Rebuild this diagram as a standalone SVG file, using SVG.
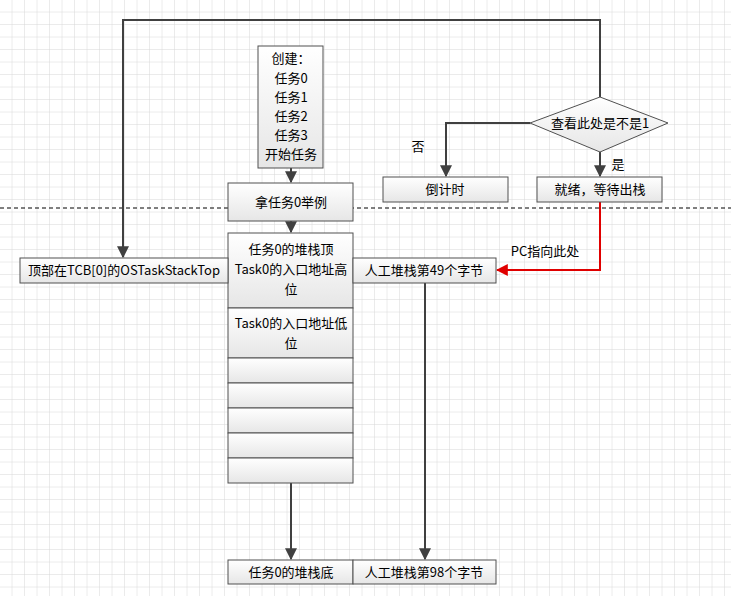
<svg xmlns="http://www.w3.org/2000/svg" width="731" height="596" viewBox="0 0 731 596">
<defs>
<pattern id="grid" width="12.5" height="12.5" patternUnits="userSpaceOnUse"><path d="M12.5 0V12.5H0" fill="none" stroke="#d8d8d8" stroke-width="1"/></pattern>
<linearGradient id="g" x1="0" y1="0" x2="0" y2="1"><stop offset="0" stop-color="#ffffff"/><stop offset="1" stop-color="#e6e6e6"/></linearGradient>
<marker id="a" viewBox="0 0 10 10" refX="9" refY="5" markerWidth="6" markerHeight="6" orient="auto" markerUnits="userSpaceOnUse"><path d="M0 0L10 5L0 10z" fill="#404040"/></marker>
<marker id="a2" viewBox="0 0 10 10" refX="9" refY="5" markerWidth="12" markerHeight="12" orient="auto" markerUnits="userSpaceOnUse"><path d="M0 0L10 5L0 10z" fill="#404040"/></marker>
<marker id="r" viewBox="0 0 10 10" refX="9" refY="5" markerWidth="12" markerHeight="12" orient="auto" markerUnits="userSpaceOnUse"><path d="M0 0L10 5L0 10z" fill="#e00000"/></marker>
</defs>
<style>
.b{fill:url(#g);stroke:#505050;stroke-width:1}
text{font-family:"Noto Sans CJK SC","Liberation Sans",sans-serif;font-size:13px;fill:#000;text-anchor:middle}
.c{fill:none;stroke:#404040;stroke-width:2}
</style>
<rect width="731" height="596" fill="#fff"/>
<rect width="731" height="596" fill="url(#grid)"/>
<line x1="0" y1="208" x2="731" y2="208" stroke="#000" stroke-dasharray="4,3"/>
<g id="connectors">
<path class="c" d="M600 97V20H123V257" marker-end="url(#a2)"/>
<path class="c" d="M530 123H446V176" marker-end="url(#a2)"/>
<path class="c" d="M600 152V176" marker-end="url(#a2)"/>
<path class="c" d="M291 168V182" marker-end="url(#a2)"/>
<path class="c" d="M291 221V232" marker-end="url(#a2)"/>
<path class="c" d="M291 483V559" marker-end="url(#a2)"/>
<path class="c" d="M425 283V559" marker-end="url(#a2)"/>
<path d="M600 202V270H497" fill="none" stroke="#e00000" stroke-width="2" marker-end="url(#r)"/>
<text x="418" y="151">否</text>
<text x="618" y="169">是</text>
<text x="545" y="256">PC指向此处</text>
</g>
<g id="create"><rect class="b" x="258" y="46" width="65" height="122"/>
<text x="291" y="63">创建：</text><text x="291" y="83">任务0</text><text x="291" y="102">任务1</text><text x="291" y="121">任务2</text><text x="291" y="140">任务3</text><text x="291" y="159">开始任务</text></g>
<g id="example"><rect class="b" x="228" y="183" width="125" height="38"/><text x="291" y="207">拿任务0举例</text></g>
<g id="countdown"><rect class="b" x="383" y="177" width="125" height="25"/><text x="445" y="194">倒计时</text></g>
<g id="ready"><rect class="b" x="537" y="177" width="125" height="25"/><text x="600" y="194">就绪，等待出栈</text></g>
<g id="decision"><path class="b" d="M600 97L668 123L600 152L530 123Z"/><text x="600" y="128">查看此处是不是1</text></g>
<g id="top"><rect class="b" x="228" y="233" width="125" height="75"/><text x="291" y="254">任务0的堆栈顶</text><text x="291" y="274">Task0的入口地址高</text><text x="291" y="294">位</text></g>
<g id="low"><rect class="b" x="228" y="308" width="125" height="50"/><text x="291" y="328">Task0的入口地址低</text><text x="291" y="348">位</text></g>
<g id="rows"><rect class="b" x="228" y="358" width="125" height="25"/><rect class="b" x="228" y="383" width="125" height="25"/><rect class="b" x="228" y="408" width="125" height="25"/><rect class="b" x="228" y="433" width="125" height="25"/><rect class="b" x="228" y="458" width="125" height="25"/></g>
<g id="tcb"><rect class="b" x="20" y="258" width="208" height="25"/><text x="124" y="275">顶部在TCB[0]的OSTaskStackTop</text></g>
<g id="b49"><rect class="b" x="353" y="258" width="143" height="25"/><text x="424" y="275">人工堆栈第49个字节</text></g>
<g id="bottom"><rect class="b" x="228" y="560" width="125" height="24"/><text x="291" y="577">任务0的堆栈底</text></g>
<g id="b98"><rect class="b" x="353" y="560" width="143" height="24"/><text x="424" y="577">人工堆栈第98个字节</text></g>
</svg>
